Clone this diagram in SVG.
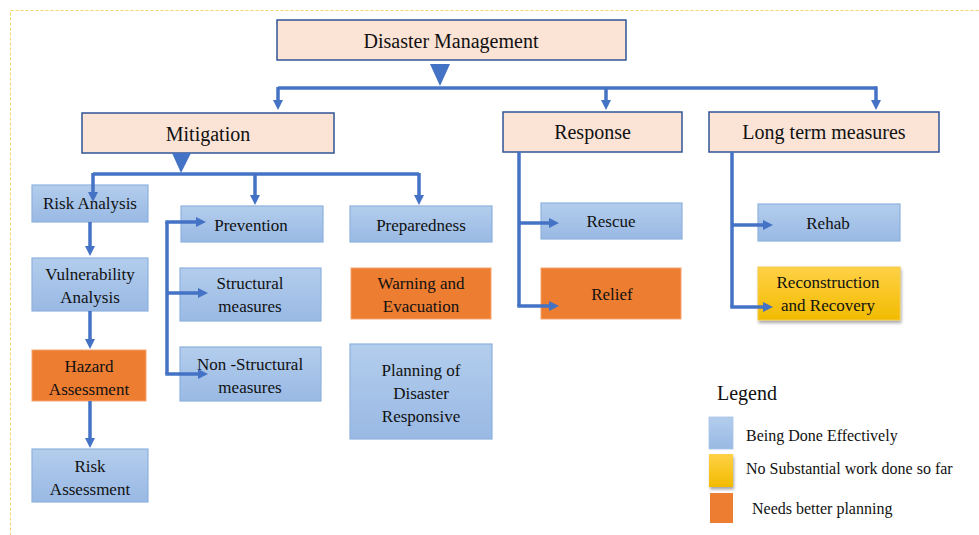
<svg xmlns="http://www.w3.org/2000/svg" width="979" height="535" viewBox="0 0 979 535" font-family="'Liberation Serif', 'Times New Roman', 'DejaVu Serif', serif">
<style>
  text { font-family: 'Liberation Serif', 'Times New Roman', 'DejaVu Serif', serif; fill: #111; text-anchor: middle; }
  .t20 { font-size: 20px; }
  .t17 { font-size: 17px; }
  .lg { font-size: 16px; text-anchor: start; }
  .peach { fill: #fbe3d6; stroke: #2f5597; stroke-width: 1.5; }
  .blue { fill: url(#gBlue); stroke: #8eb1de; stroke-width: 1.2; }
  .orange { fill: #ed7d31; stroke: #f4a46e; stroke-width: 1; }
  .yellow { fill: url(#gYellow); stroke: #f2c94c; stroke-width: 1; }
  .ln { stroke: #4472c4; stroke-width: 3.5; fill: none; }
  .arr { stroke: #4472c4; stroke-width: 3.5; fill: none; marker-end: url(#ah); }
  .tri { fill: #4472c4; }
</style>
<defs>
  <linearGradient id="gBlue" x1="0" y1="0" x2="0" y2="1">
    <stop offset="0" stop-color="#b3cdec"/>
    <stop offset="1" stop-color="#99b9e4"/>
  </linearGradient>
  <linearGradient id="gYellow" x1="0" y1="0" x2="0" y2="1">
    <stop offset="0" stop-color="#ffd146"/>
    <stop offset="1" stop-color="#f2bb00"/>
  </linearGradient>
  <filter id="sh" x="-10%" y="-10%" width="130%" height="140%">
    <feDropShadow dx="1" dy="2.5" stdDeviation="1.5" flood-color="#000" flood-opacity="0.35"/>
  </filter>
  <marker id="ah" viewBox="0 0 10 10" markerWidth="10" markerHeight="11" markerUnits="userSpaceOnUse" refX="1" refY="5" orient="auto">
    <path d="M0,0 L10,5 L0,10 z" fill="#4472c4"/>
  </marker>
</defs>

<rect x="10.5" y="10.5" width="990" height="540" fill="none" stroke="#f3d36a" stroke-width="1" stroke-dasharray="3,2"/>

<g id="n-disaster-management">
  <rect class="peach" x="277" y="20" width="349" height="40"/>
  <text class="t20" x="451" y="48">Disaster Management</text>
</g>
<g id="n-mitigation">
  <rect class="peach" x="82" y="113" width="252" height="40"/>
  <text class="t20" x="208" y="141">Mitigation</text>
</g>
<g id="n-response">
  <rect class="peach" x="503" y="112" width="179" height="40"/>
  <text class="t20" x="592.5" y="139">Response</text>
</g>
<g id="n-long-term">
  <rect class="peach" x="709" y="112" width="230" height="40"/>
  <text class="t20" x="824" y="139">Long term measures</text>
</g>

<g id="n-risk-analysis">
  <rect class="blue" x="32" y="185" width="116" height="37"/>
  <text class="t17" x="90" y="209">Risk Analysis</text>
</g>
<g id="n-vulnerability">
  <rect class="blue" x="32" y="258" width="116" height="53"/>
  <text class="t17" x="90" y="280">Vulnerability</text>
  <text class="t17" x="90" y="303">Analysis</text>
</g>
<g id="n-hazard">
  <rect class="orange" x="32" y="350" width="114" height="51"/>
  <text class="t17" x="89" y="372">Hazard</text>
  <text class="t17" x="89" y="395">Assessment</text>
</g>
<g id="n-risk-assessment">
  <rect class="blue" x="32" y="449" width="116" height="53"/>
  <text class="t17" x="90" y="472">Risk</text>
  <text class="t17" x="90" y="495">Assessment</text>
</g>

<g id="n-prevention">
  <rect class="blue" x="181" y="206" width="142" height="36"/>
  <text class="t17" x="251" y="231">Prevention</text>
</g>
<g id="n-structural">
  <rect class="blue" x="180" y="268" width="141" height="53"/>
  <text class="t17" x="250" y="289">Structural</text>
  <text class="t17" x="250" y="312">measures</text>
</g>
<g id="n-nonstructural">
  <rect class="blue" x="180" y="347" width="141" height="54"/>
  <text class="t17" x="250" y="370">Non -Structural</text>
  <text class="t17" x="250" y="393">measures</text>
</g>

<g id="n-preparedness">
  <rect class="blue" x="350" y="206" width="142" height="36"/>
  <text class="t17" x="421" y="231">Preparedness</text>
</g>
<g id="n-warning">
  <rect class="orange" x="351" y="268" width="140" height="51"/>
  <text class="t17" x="421" y="289">Warning and</text>
  <text class="t17" x="421" y="312">Evacuation</text>
</g>
<g id="n-planning">
  <rect class="blue" x="350" y="344" width="142" height="95"/>
  <text class="t17" x="421" y="376">Planning of</text>
  <text class="t17" x="421" y="399">Disaster</text>
  <text class="t17" x="421" y="422">Responsive</text>
</g>

<g id="n-rescue">
  <rect class="blue" x="541" y="203" width="141" height="36"/>
  <text class="t17" x="611" y="227">Rescue</text>
</g>
<g id="n-relief">
  <rect class="orange" x="541" y="268" width="140" height="51"/>
  <text class="t17" x="612" y="300">Relief</text>
</g>

<g id="n-rehab">
  <rect class="blue" x="758" y="204" width="142" height="37"/>
  <text class="t17" x="828" y="229">Rehab</text>
</g>
<g id="n-reconstruction">
  <rect class="yellow" x="758" y="267" width="142" height="53" filter="url(#sh)"/>
  <text class="t17" x="828" y="288">Reconstruction</text>
  <text class="t17" x="828" y="311">and Recovery</text>
</g>

<g id="connectors">
  <polygon class="tri" points="430,64 450,64 440,86"/>
  <line class="ln" x1="278" y1="88" x2="877" y2="88"/>
  <line class="arr" x1="278" y1="87" x2="278" y2="101"/>
  <line class="arr" x1="606" y1="87" x2="606" y2="101"/>
  <line class="arr" x1="876" y1="86.5" x2="876" y2="101"/>

  <polygon class="tri" points="172,153 191,153 181,173"/>
  <line class="ln" x1="93" y1="174" x2="419" y2="174"/>
  <line class="arr" x1="93" y1="173" x2="93" y2="193"/>
  <line class="arr" x1="255" y1="173" x2="255" y2="196"/>
  <line class="arr" x1="419" y1="173" x2="419" y2="196"/>

  <line class="arr" x1="90" y1="222" x2="90" y2="247"/>
  <line class="arr" x1="90" y1="311" x2="90" y2="340"/>
  <line class="arr" x1="90" y1="401" x2="90" y2="439"/>

  <path class="ln" d="M167,222 L167,374"/>
  <line class="arr" x1="165.3" y1="222" x2="197" y2="222"/>
  <line class="arr" x1="167" y1="293" x2="199" y2="293"/>
  <line class="arr" x1="165.3" y1="374" x2="199" y2="374"/>

  <path class="ln" d="M519,152 L519,306"/>
  <line class="arr" x1="519" y1="223" x2="550" y2="223"/>
  <line class="arr" x1="517.3" y1="306" x2="550" y2="306"/>

  <path class="ln" d="M732,152 L732,307"/>
  <line class="arr" x1="732" y1="225" x2="764" y2="225"/>
  <line class="arr" x1="730.3" y1="307" x2="764" y2="307"/>
</g>

<g id="legend">
  <text x="717" y="400" style="font-size:20px;text-anchor:start">Legend</text>
  <rect x="709" y="417" width="24" height="32" fill="url(#gBlue)" stroke="#a9c4e8" stroke-width="0.8"/>
  <rect x="709" y="454" width="24" height="33" fill="url(#gYellow)" filter="url(#sh)"/>
  <rect x="710" y="493" width="23" height="30" fill="#ed7d31"/>
  <text class="lg" x="746" y="441">Being Done Effectively</text>
  <text class="lg" x="746" y="474">No Substantial work done so far</text>
  <text class="lg" x="752" y="514">Needs better planning</text>
</g>
</svg>
